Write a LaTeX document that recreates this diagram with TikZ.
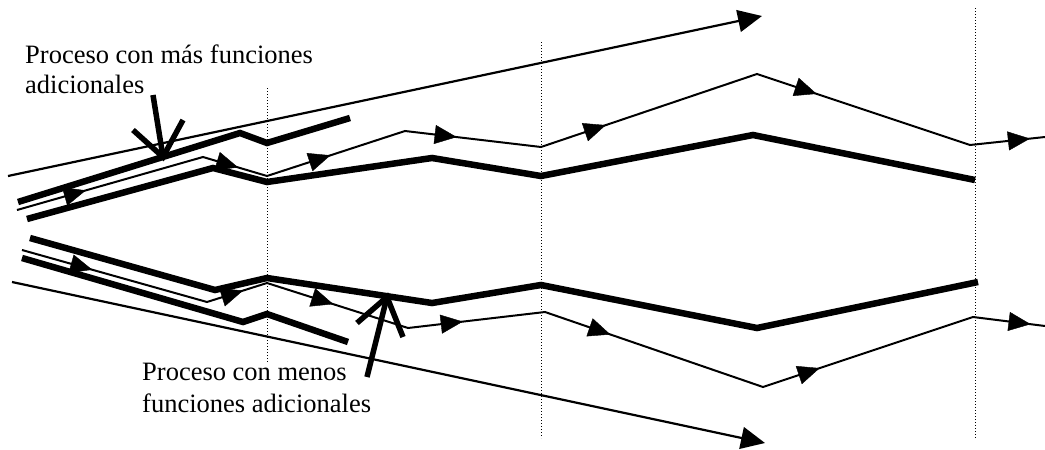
\documentclass[tikz,border=0pt]{standalone}
\usepackage{fontspec}
\setmainfont{Liberation Serif}
\usetikzlibrary{arrows.meta,decorations.markings}
\tikzset{
  thinflow/.style={line width=2pt},
  thickflow/.style={line width=6.5pt},
  guide/.style={line width=1pt,dotted},
  bigarrow/.style={line width=2.2pt,-{Triangle[length=24pt,width=22pt]}},
  pointer/.style={line width=5.5pt},
  flowtip/.style={decoration={markings,mark=at position #1 with {\arrow{Triangle[length=22pt,width=19pt]}}},postaction={decorate}},
  caption/.style={font=\fontsize{26.5}{30}\selectfont,inner sep=0pt,anchor=base west}
}
\begin{document}
\begin{tikzpicture}[x=1pt,y=-1pt]
\useasboundingbox (0,0) rectangle (1045,450);

% time guides
\draw[guide] (267,88) -- (267,362);
\draw[guide] (541,42) -- (541,438);
\draw[guide] (975,8) -- (975,438);

% outer trend arrows
\coordinate (tS) at (8,176);   \coordinate (tE) at (762,16);
\coordinate (bS) at (12,282);  \coordinate (bE) at (765,443);
\draw[bigarrow] (tS) -- (tE);
\draw[bigarrow] (bS) -- (bE);

% upper group: process with more functions
\draw[thickflow] (18,202) -- (240,133) -- (267,143) -- (350,118);
\draw[thinflow] (17,210) -- (203,157) -- (267,176) -- (405,131) -- (541,147)
  -- (757,74) -- (970,145) -- (1045,137);
\draw[thickflow] (27,219) -- (213,168) -- (267,182) -- (432,158) -- (541,176)
  -- (753,135) -- (975,180);

\path[flowtip=0.37] (17,210) -- (203,157);
\path[flowtip=0.55] (203,157) -- (267,176);
\path[flowtip=0.46] (267,176) -- (405,131);
\path[flowtip=0.38] (405,131) -- (541,147);
\path[flowtip=0.30] (541,147) -- (757,74);
\path[flowtip=0.28] (757,74) -- (970,145);
\path[flowtip=0.80] (970,145) -- (1045,137);

% lower group: process with fewer functions
\draw[thickflow] (30,238) -- (215,290) -- (267,278) -- (432,303) -- (541,285)
  -- (757,328) -- (978,282);
\draw[thinflow] (22,250) -- (207,302) -- (267,283) -- (408,328) -- (545,312)
  -- (763,387) -- (973,317) -- (1045,326);
\draw[thickflow] (22,258) -- (243,322) -- (267,314) -- (348,342);

\path[flowtip=0.38] (22,250) -- (207,302);
\path[flowtip=0.60] (207,302) -- (267,283);
\path[flowtip=0.47] (267,283) -- (408,328);
\path[flowtip=0.40] (408,328) -- (545,312);
\path[flowtip=0.30] (545,312) -- (763,387);
\path[flowtip=0.27] (763,387) -- (973,317);
\path[flowtip=0.80] (973,317) -- (1045,326);

% captions
\node[caption] (masA) at (25,63) {Proceso con más funciones};
\node[caption] (masB) at (25,93) {adicionales};
\node[caption] (menA) at (142,380) {Proceso con menos};
\node[caption] (menB) at (142,412) {funciones adicionales};

% caption pointers
\coordinate (p1tail) at (153,95);  \coordinate (p1tip) at (163,157);
\coordinate (p1l) at (133,130);    \coordinate (p1r) at (183,120);
\draw[pointer] (p1tail) -- (p1tip);
\draw[pointer] (p1l) -- (p1tip) -- (p1r);

\coordinate (p2tail) at (367,377); \coordinate (p2tip) at (387,297);
\coordinate (p2l) at (357,323);    \coordinate (p2r) at (403,337);
\draw[pointer] (p2tail) -- (p2tip);
\draw[pointer] (p2l) -- (p2tip) -- (p2r);
\end{tikzpicture}
\end{document}
